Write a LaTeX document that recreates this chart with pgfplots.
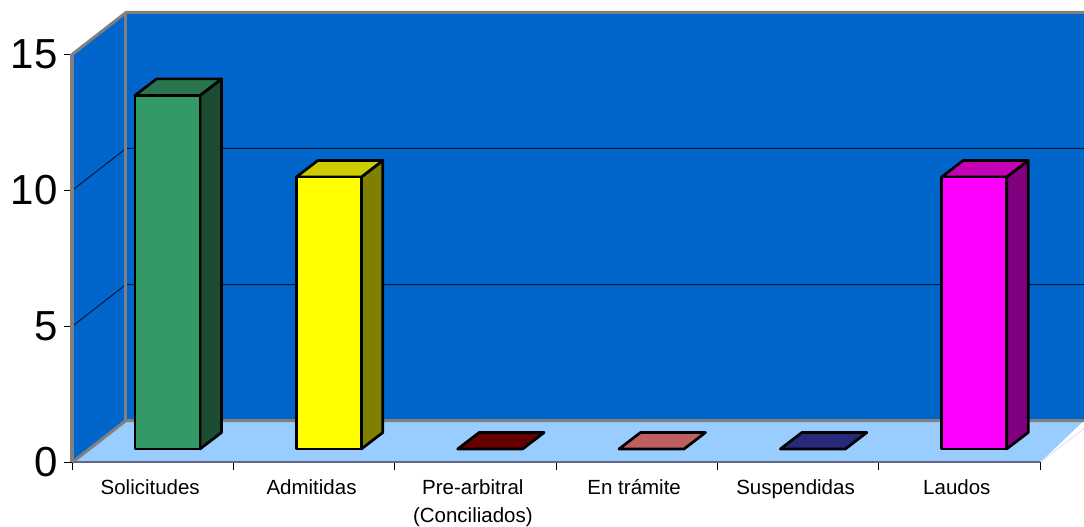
\documentclass[border=0pt]{standalone}
\usepackage{pgfplots}
\pgfplotsset{compat=1.18}
\usepackage{fontspec}
\setmainfont{Liberation Sans}
\definecolor{wall}{HTML}{0066CC}
\definecolor{floorc}{HTML}{99CCFF}
\definecolor{frame}{HTML}{808080}
\definecolor{baseline}{HTML}{666688}
\definecolor{greenF}{HTML}{339966}
\definecolor{greenS}{HTML}{1C4D33}
\definecolor{greenT}{HTML}{29754E}
\definecolor{yellowF}{HTML}{FFFF00}
\definecolor{yellowS}{HTML}{808000}
\definecolor{yellowT}{HTML}{CCCC00}
\definecolor{maroonT}{HTML}{660000}
\definecolor{salmonT}{HTML}{BF6060}
\definecolor{navyT}{HTML}{29297A}
\definecolor{magentaF}{HTML}{FF00FF}
\definecolor{magentaS}{HTML}{800080}
\definecolor{magentaT}{HTML}{C400B4}
% Faces of a column: the front runs from 0 to the value, side and top are set back in depth
\pgfplotsset{
  face/.style={draw=black, line width=2.7pt, line join=round, yshift=13.5pt},
  wallline/.style={draw=frame, line width=3pt},
}
\begin{document}
\begin{tikzpicture}
\path[use as bounding box] (0,0) rectangle (1084pt,527pt);
\begin{axis}[
  at={(72pt,64.5pt)}, anchor=south west,
  scale only axis, width=968pt, height=408pt,
  xmin=0, xmax=6, ymin=0, ymax=15,
  axis lines=left, clip=false, axis on top,
  x axis line style={-, draw=baseline, line width=2pt},
  y axis line style={-, draw=frame, line width=3pt},
  tick align=outside, major tick length=7.5pt,
  tick style={black, line width=0.8pt},
  xtick={0,1,2,3,4,5,6}, ytick={0,5,10,15},
  xticklabels={Solicitudes,Admitidas,{Pre-arbitral\\(Conciliados)},En trámite,Suspendidas,Laudos,{}},
  x tick label style={font=\fontsize{20.5}{28}\selectfont, align=center, xshift=78.2pt, yshift=-6pt},
  y tick label style={font=\fontsize{42}{42}\selectfont, xshift=-3.5pt},
  /pgf/number format/assume math mode=true,
]
% Back wall, side wall and floor
\addplot[fill=wall, draw=none] coordinates {(0.3347,1.544)(6.273,1.544)(6.273,16.544)(0.3347,16.544)} --cycle;
\addplot[fill=wall, draw=none] coordinates {(0,0)(0.3347,1.544)(0.3347,16.544)(0,15)} --cycle;
% Gridlines at 5 and 10
\addplot[black!75!wall, line width=1pt] coordinates {(0,5)(0.3347,6.544)(6.273,6.544)};
\addplot[black!75!wall, line width=1pt] coordinates {(0,10)(0.3347,11.544)(6.273,11.544)};
\addplot[fill=floorc, draw=none] coordinates {(0,0)(0.3347,1.544)(6.273,1.544)(6,0)} --cycle;
% Frame of the walls
\addplot[wallline] coordinates {(0,15)(0.3347,16.544)(6.273,16.544)};
\addplot[wallline] coordinates {(0,0)(0.3347,1.544)(6.273,1.544)};
\addplot[wallline] coordinates {(0.3347,1.544)(0.3347,16.544)};
\addplot[draw=blue!12, line width=1pt] coordinates {(6,0)(6.273,1.25)};
% Solicitudes = 13
\addplot[face, fill=greenS] coordinates {(0.7934,0)(0.9267,0.607)(0.9267,13.607)(0.7934,13)} --cycle;
\addplot[face, fill=greenT] coordinates {(0.3905,13)(0.7934,13)(0.9267,13.607)(0.5238,13.607)} --cycle;
\addplot[face, fill=greenF] coordinates {(0.3905,0)(0.7934,0)(0.7934,13)(0.3905,13)} --cycle;
% Admitidas = 10
\addplot[face, fill=yellowS] coordinates {(1.7934,0)(1.9267,0.607)(1.9267,10.607)(1.7934,10)} --cycle;
\addplot[face, fill=yellowT] coordinates {(1.3905,10)(1.7934,10)(1.9267,10.607)(1.5238,10.607)} --cycle;
\addplot[face, fill=yellowF] coordinates {(1.3905,0)(1.7934,0)(1.7934,10)(1.3905,10)} --cycle;
% Pre-arbitral, En trámite and Suspendidas = 0: only the top face shows
\addplot[face, fill=maroonT] coordinates {(2.3905,0)(2.7934,0)(2.9267,0.607)(2.5238,0.607)} --cycle;
\addplot[face, fill=salmonT] coordinates {(3.3905,0)(3.7934,0)(3.9267,0.607)(3.5238,0.607)} --cycle;
\addplot[face, fill=navyT] coordinates {(4.3905,0)(4.7934,0)(4.9267,0.607)(4.5238,0.607)} --cycle;
% Laudos = 10
\addplot[face, fill=magentaS] coordinates {(5.7934,0)(5.9267,0.607)(5.9267,10.607)(5.7934,10)} --cycle;
\addplot[face, fill=magentaT] coordinates {(5.3905,10)(5.7934,10)(5.9267,10.607)(5.5238,10.607)} --cycle;
\addplot[face, fill=magentaF] coordinates {(5.3905,0)(5.7934,0)(5.7934,10)(5.3905,10)} --cycle;
\end{axis}
\end{tikzpicture}
\end{document}
